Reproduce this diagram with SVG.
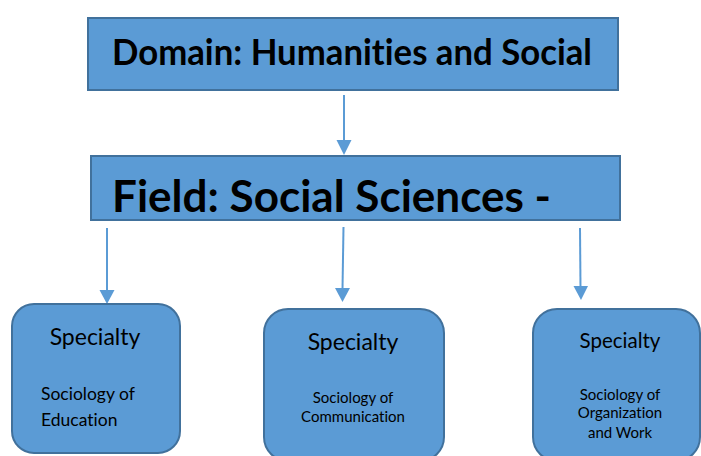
<svg xmlns="http://www.w3.org/2000/svg" width="701" height="456" viewBox="0 0 701 456">
<defs>
<style>
.box{fill:#5B9BD5;stroke:#41719C;stroke-width:2}
.conn{stroke:#5B9BD5;stroke-width:2;fill:none}
.head{fill:#5B9BD5}
.big{font-family:Lato,"Liberation Sans",sans-serif;font-weight:bold;fill:#000;font-variant-ligatures:none}
.t{font-family:Lato,"Liberation Sans",sans-serif;fill:#000;font-variant-ligatures:none}
</style>
</defs>
<rect width="701" height="456" fill="#fff"/>
<g id="connectors">
<line class="conn" x1="344" y1="95" x2="344" y2="142"/>
<polygon class="head" points="336.5,140 351.5,140 344,155"/>
<line class="conn" x1="107" y1="228" x2="107" y2="291"/>
<polygon class="head" points="99.5,290 114.5,290 107,304"/>
<line class="conn" x1="343.5" y1="227" x2="342.5" y2="289"/>
<polygon class="head" points="335,288 350,288 342.5,302"/>
<line class="conn" x1="580" y1="228" x2="580.5" y2="287"/>
<polygon class="head" points="573.5,286 588,286 581,300"/>
</g>
<g id="domain">
<rect class="box" x="88" y="18" width="530" height="72"/>
<text class="big" x="112" y="65" font-size="36" textLength="480" lengthAdjust="spacingAndGlyphs">Domain: Humanities and Social</text>
</g>
<g id="field">
<rect class="box" x="91" y="156" width="529" height="64"/>
<text class="big" x="112" y="212" font-size="44" textLength="439" lengthAdjust="spacingAndGlyphs">Field: Social Sciences -</text>
</g>
<g id="specialty-education">
<rect class="box" x="12" y="304" width="168" height="149" rx="22"/>
<text class="t" x="95" y="345" font-size="23" text-anchor="middle">Specialty</text>
<text class="t" x="41" y="400" font-size="17.5">Sociology of</text>
<text class="t" x="41" y="426" font-size="17.5">Education</text>
</g>
<g id="specialty-communication">
<rect class="box" x="264" y="309" width="180" height="152" rx="24"/>
<text class="t" x="353" y="350" font-size="23" text-anchor="middle">Specialty</text>
<text class="t" x="353" y="403" font-size="15" text-anchor="middle">Sociology of</text>
<text class="t" x="353" y="422" font-size="15" text-anchor="middle">Communication</text>
</g>
<g id="specialty-organization">
<rect class="box" x="533" y="309" width="167" height="152" rx="24"/>
<text class="t" x="620" y="348" font-size="20.5" text-anchor="middle">Specialty</text>
<text class="t" x="620" y="400" font-size="15" text-anchor="middle">Sociology of</text>
<text class="t" x="620" y="418" font-size="15" text-anchor="middle">Organization</text>
<text class="t" x="620" y="438" font-size="15" text-anchor="middle">and Work</text>
</g>
</svg>
